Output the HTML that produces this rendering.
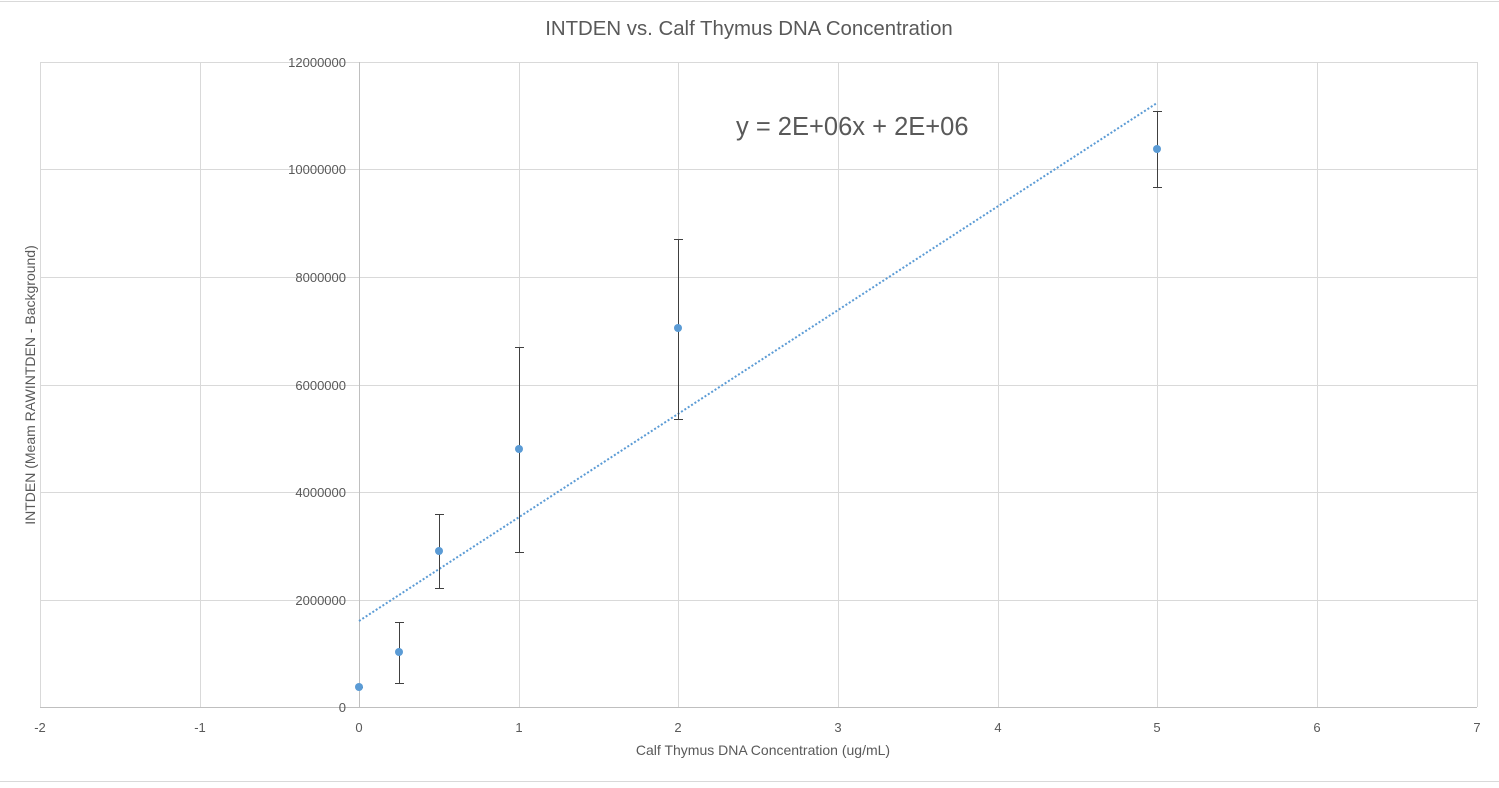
<!DOCTYPE html>
<html><head><style>
body{margin:0;background:#fff;}
svg text{font-family:"Liberation Sans",sans-serif;fill:#595959;}
</style></head><body>
<svg width="1499" height="783" xmlns="http://www.w3.org/2000/svg">
<line x1="0" y1="1.5" x2="1499" y2="1.5" stroke="#d9d9d9"/>
<line x1="0" y1="781.5" x2="1499" y2="781.5" stroke="#d9d9d9"/>
<text x="749" y="35" font-size="20.4" text-anchor="middle">INTDEN vs. Calf Thymus DNA Concentration</text>
<g stroke="#d9d9d9" stroke-width="1">
<line x1="40.5" y1="62" x2="40.5" y2="707"/>
<line x1="200.5" y1="62" x2="200.5" y2="707"/>
<line x1="519.5" y1="62" x2="519.5" y2="707"/>
<line x1="678.5" y1="62" x2="678.5" y2="707"/>
<line x1="838.5" y1="62" x2="838.5" y2="707"/>
<line x1="998.5" y1="62" x2="998.5" y2="707"/>
<line x1="1157.5" y1="62" x2="1157.5" y2="707"/>
<line x1="1317.5" y1="62" x2="1317.5" y2="707"/>
<line x1="1477.5" y1="62" x2="1477.5" y2="707"/>
<line x1="40" y1="62.5" x2="1477" y2="62.5"/>
<line x1="40" y1="169.5" x2="1477" y2="169.5"/>
<line x1="40" y1="277.5" x2="1477" y2="277.5"/>
<line x1="40" y1="385.5" x2="1477" y2="385.5"/>
<line x1="40" y1="492.5" x2="1477" y2="492.5"/>
<line x1="40" y1="600.5" x2="1477" y2="600.5"/>
</g>
<line x1="40" y1="707.5" x2="1477" y2="707.5" stroke="#bfbfbf"/>
<line x1="359.5" y1="62" x2="359.5" y2="707" stroke="#bfbfbf"/>
<g font-size="13" text-anchor="end">
<text x="346" y="67">12000000</text>
<text x="346" y="174">10000000</text>
<text x="346" y="282">8000000</text>
<text x="346" y="390">6000000</text>
<text x="346" y="497">4000000</text>
<text x="346" y="605">2000000</text>
<text x="346" y="712">0</text>
</g>
<g font-size="13" text-anchor="middle">
<text x="40" y="732">-2</text><text x="200" y="732">-1</text><text x="359" y="732">0</text>
<text x="519" y="732">1</text><text x="678" y="732">2</text><text x="838" y="732">3</text>
<text x="998" y="732">4</text><text x="1157" y="732">5</text><text x="1317" y="732">6</text>
<text x="1477" y="732">7</text>
</g>
<text x="763" y="755" font-size="14" text-anchor="middle">Calf Thymus DNA Concentration (ug/mL)</text>
<text transform="translate(35,385) rotate(-90)" font-size="14" text-anchor="middle">INTDEN (Meam RAWINTDEN - Background)</text>
<line x1="359" y1="621" x2="1157" y2="103" stroke="#5b9bd5" stroke-width="2" stroke-dasharray="2,2"/>
<g stroke="#404040" stroke-width="1">
<line x1="359.5" y1="685" x2="359.5" y2="690"/><line x1="357" y1="687.5" x2="363" y2="687.5"/>
<line x1="399.5" y1="622" x2="399.5" y2="683"/><line x1="395" y1="622.5" x2="404" y2="622.5"/><line x1="395" y1="683.5" x2="404" y2="683.5"/>
<line x1="439.5" y1="514" x2="439.5" y2="588"/><line x1="435" y1="514.5" x2="444" y2="514.5"/><line x1="435" y1="588.5" x2="444" y2="588.5"/>
<line x1="519.5" y1="347" x2="519.5" y2="552"/><line x1="515" y1="347.5" x2="524" y2="347.5"/><line x1="515" y1="552.5" x2="524" y2="552.5"/>
<line x1="678.5" y1="239" x2="678.5" y2="419"/><line x1="674" y1="239.5" x2="683" y2="239.5"/><line x1="674" y1="419.5" x2="683" y2="419.5"/>
<line x1="1157.5" y1="111" x2="1157.5" y2="187"/><line x1="1153" y1="111.5" x2="1162" y2="111.5"/><line x1="1153" y1="187.5" x2="1162" y2="187.5"/>
</g>
<g fill="#5b9bd5">
<circle cx="359" cy="687" r="4"/><circle cx="399" cy="652" r="4"/><circle cx="439" cy="551" r="4"/>
<circle cx="519" cy="449" r="4"/><circle cx="678" cy="328" r="4"/><circle cx="1157" cy="149" r="4"/>
</g>
<text x="736" y="135" font-size="25.5">y = 2E+06x + 2E+06</text>
</svg>
</body></html>
